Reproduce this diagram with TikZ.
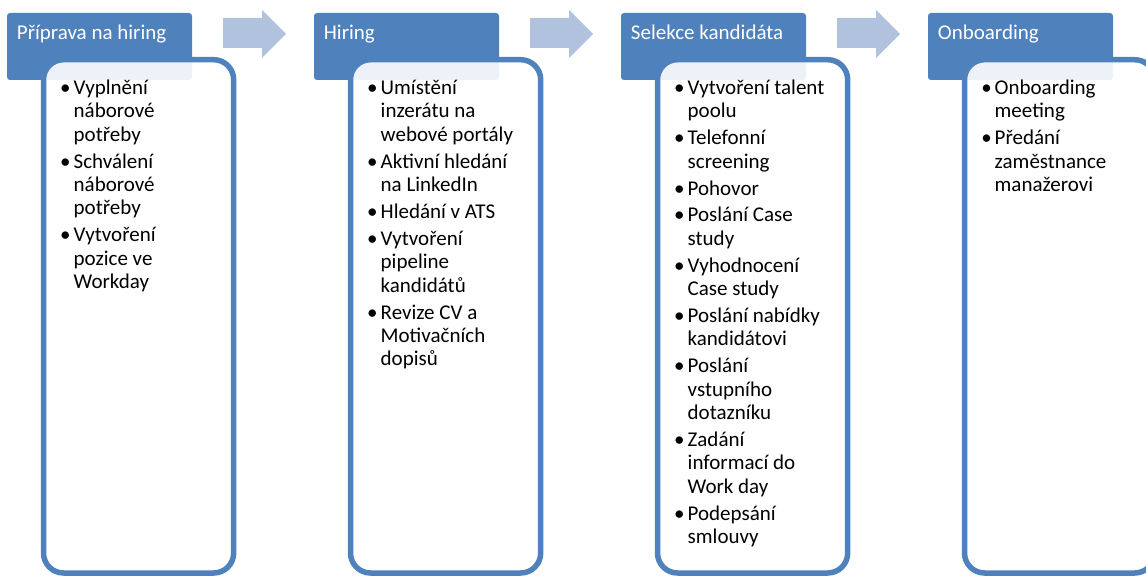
\documentclass[tikz,border=0pt]{standalone}
\usepackage{fontspec}
\setmainfont{Carlito}
\definecolor{hdrblue}{RGB}{79,129,189}
\definecolor{arrowblue}{RGB}{176,194,222}
\tikzset{
  header/.style={fill=hdrblue, rounded corners=3pt, anchor=north west,
    minimum width=185pt, minimum height=67pt, inner sep=0pt, outer sep=0pt},
  title/.style={anchor=base west, inner sep=0pt, text=white,
    font=\fontsize{21}{23.4}\selectfont},
  panel/.style={draw=hdrblue, line width=5.5pt, fill=white, fill opacity=0.9,
    rounded corners=20pt, anchor=north west, inner sep=0pt, outer sep=0pt,
    minimum width=190.2pt, minimum height=513.3pt},
  items/.style={anchor=base west, inner sep=0pt,
    font=\fontsize{21}{23.4}\selectfont},
  flow/.style={fill=arrowblue}
}
% bullet list with hanging bullets and a small gap between items
\newcommand{\itemlist}[1]{\parbox[t]{175pt}{\raggedright
  \setlength{\parindent}{0pt}\setlength{\parskip}{3.5pt}%
  \setlength{\lineskiplimit}{-20pt}#1}}
\newcommand{\bul}{\noindent\llap{•\hspace{3pt}}}
\newcommand{\flowarrow}[1]{%
  \fill[flow] (#1,18) -- ++(39,0) -- ++(0,-8) -- ++(24,24) -- ++(-24,24)
    -- ++(0,-10) -- ++(-39,0) -- cycle;}
\begin{document}
\begin{tikzpicture}[x=1pt, y=-1pt]
\useasboundingbox (0,0) rectangle (1146,577);
\clip (0,0) rectangle (1146,577);

% stage headers
\node[header] (h1) at (7,13) {};
\node[header] (h2) at (314,13) {};
\node[header] (h3) at (621,13) {};
\node[header] (h4) at (928,13) {};

\node[title] (t1) at (16.7,39.5) {Příprava na hiring};
\node[title] (t2) at (323.7,39.5) {Hiring};
\node[title] (t3) at (630.7,39.5) {Selekce kandidáta};
\node[title] (t4) at (937.7,39.5) {Onboarding};

% arrows between stages
\flowarrow{223}
\flowarrow{530}
\flowarrow{837}

% task panels
\node[panel] (p1) at (43.5,59.7) {};
\node[panel] (p2) at (350.5,59.7) {};
\node[panel] (p3) at (657.5,59.7) {};
\node[panel] (p4) at (964.5,59.7) {};

\node[items] (l1) at (73.5,94.5) {\itemlist{%
  \bul Vyplnění\\náborové\\potřeby\par
  \bul Schválení\\náborové\\potřeby\par
  \bul Vytvoření\\pozice ve\\Workday}};

\node[items] (l2) at (380.5,94.5) {\itemlist{%
  \bul Umístění\\inzerátu na\\webové portály\par
  \bul Aktivní hledání\\na LinkedIn\par
  \bul Hledání v ATS\par
  \bul Vytvoření\\pipeline\\kandidátů\par
  \bul Revize CV a\\Motivačních\\dopisů}};

\node[items] (l3) at (687.5,94.5) {\itemlist{%
  \bul Vytvoření talent\\poolu\par
  \bul Telefonní\\screening\par
  \bul Pohovor\par
  \bul Poslání Case\\study\par
  \bul Vyhodnocení\\Case study\par
  \bul Poslání nabídky\\kandidátovi\par
  \bul Poslání\\vstupního\\dotazníku\par
  \bul Zadání\\informací do\\Work day\par
  \bul Podepsání\\smlouvy}};

\node[items] (l4) at (994.5,94.5) {\itemlist{%
  \bul Onboarding\\meeting\par
  \bul Předání\\zaměstnance\\manažerovi}};
\end{tikzpicture}
\end{document}
